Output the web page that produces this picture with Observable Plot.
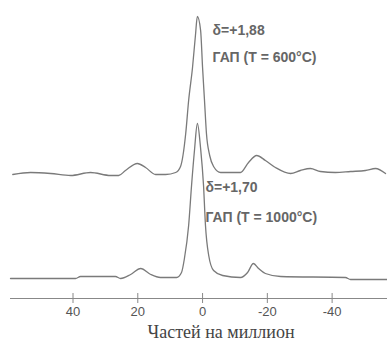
<!DOCTYPE html>
<html>
<head>
<meta charset="utf-8">
<script src="https://cdn.jsdelivr.net/npm/d3@7"></script>
<script src="https://cdn.jsdelivr.net/npm/@observablehq/plot@0.6"></script>
<style>
  html, body { margin: 0; padding: 0; background: #fff; }
  #chart { width: 387px; height: 342px; overflow: hidden; }
</style>
</head>
<body>
<div id="chart"></div>
<script>
// Chemical shift, ppm (x axis reversed)
const shiftUpper = [58.6, 53.1, 46.9, 40.7, 34.6, 28.4, 25.9, 23.8, 20.1, 17.6, 14.5, 11.4, 8.3, 6.8, 5.2, 4.3, 3.1, 2.2, 1.6,
  0.6, 0.0, -0.6, -1.2, -2.2, -3.4, -5.6, -11.7, -14.2, -16.7, -19.4, -22.5, -27.2, -30.2, -33.3, -36.4, -41.0, -45.7, -50.3, -53.4, -56.5];
const intensityUpper = [-1, 1, 0, -2, 1, -2, -2, 3, 10, 6, -1, -1, 1, 7, 40, 73, 106, 138, 157,
  143, 106, 73, 40, 18, 7, 1, 1, 11, 18, 13, 6, 0, 3, 5, 2, 1, 2, 3, 5, 0];

const shiftLower = [59.3, 39.2, 37.7, 26.9, 25.3, 22.2, 19.1, 16.0, 13.0, 8.0, 6.5, 5.6, 4.3, 3.4, 2.5, 1.6,
  0.6, -0.3, -0.9, -1.9, -3.4, -6.2, -11.7, -13.9, -15.7, -17.3, -19.4, -24.1, -44.1, -45.7, -57.1];
const intensityLower = [0, 0, 2, 2, 0, 4, 10, 4, 1, 1, 6, 20, 53, 93, 128, 155,
  130, 93, 53, 23, 8, 3, 1, 6, 15, 10, 5, 2, 1, -1, -1];

// vertical offsets of the stacked spectra
const offsetUpper = 125;
const offsetLower = 20;

const xTicks = [40, 20, 0, -20, -40];
const labelsUpper = ["δ=+1,88", "ГАП (T = 600°C)"];
const labelsLower = ["δ=+1,70", "ГАП (T = 1000°C)"];
const axisTitle = "Частей на миллион";

const upper = shiftUpper.map((s, i) => ({ppm: s, v: intensityUpper[i] + offsetUpper}));
const lower = shiftLower.map((s, i) => ({ppm: s, v: intensityLower[i] + offsetLower}));

const annotations = [
  {ppm: -3.1, v: 268, t: labelsUpper[0]},
  {ppm: -3.1, v: 241, t: labelsUpper[1]},
  {ppm: -0.9, v: 111, t: labelsLower[0]},
  {ppm: -0.9, v: 81, t: labelsLower[1]}
];

const lineColor = "#7a7a7a";

const chart = Plot.plot({
  width: 387,
  height: 342,
  marginLeft: 10,
  marginRight: 0,
  marginTop: 0,
  marginBottom: 44,
  style: {fontFamily: "Liberation Sans, Arial, sans-serif", background: "#fff"},
  x: {domain: [59.3, -57.1], ticks: xTicks},
  y: {domain: [0, 298], axis: null},
  marks: [
    Plot.ruleY([0], {stroke: "#888", strokeWidth: 1.2}),
    Plot.ruleX(xTicks, {x: d => d, y1: -5, y2: 5, stroke: "#888", strokeWidth: 1}),
    Plot.axisX({ticks: xTicks, tickSize: 0, tickPadding: 8, fontSize: 13, fill: "#555", label: null, tickFormat: d => String(d)}),
    Plot.line(upper, {x: "ppm", y: "v", stroke: lineColor, strokeWidth: 1.3, curve: "monotone-x"}),
    Plot.line(lower, {x: "ppm", y: "v", stroke: lineColor, strokeWidth: 1.3, curve: "monotone-x"}),
    Plot.text(annotations, {x: "ppm", y: "v", text: "t", textAnchor: "start", fontSize: 14, fontWeight: "bold", fill: "#666"}),
    Plot.text([axisTitle], {frameAnchor: "bottom", text: d => d, dx: 22, dy: 34, fontSize: 18, fill: "#444",
      fontFamily: "Liberation Serif, DejaVu Serif, serif", lineAnchor: "middle"})
  ]
});
document.getElementById("chart").appendChild(chart);
</script>
</body>
</html>
